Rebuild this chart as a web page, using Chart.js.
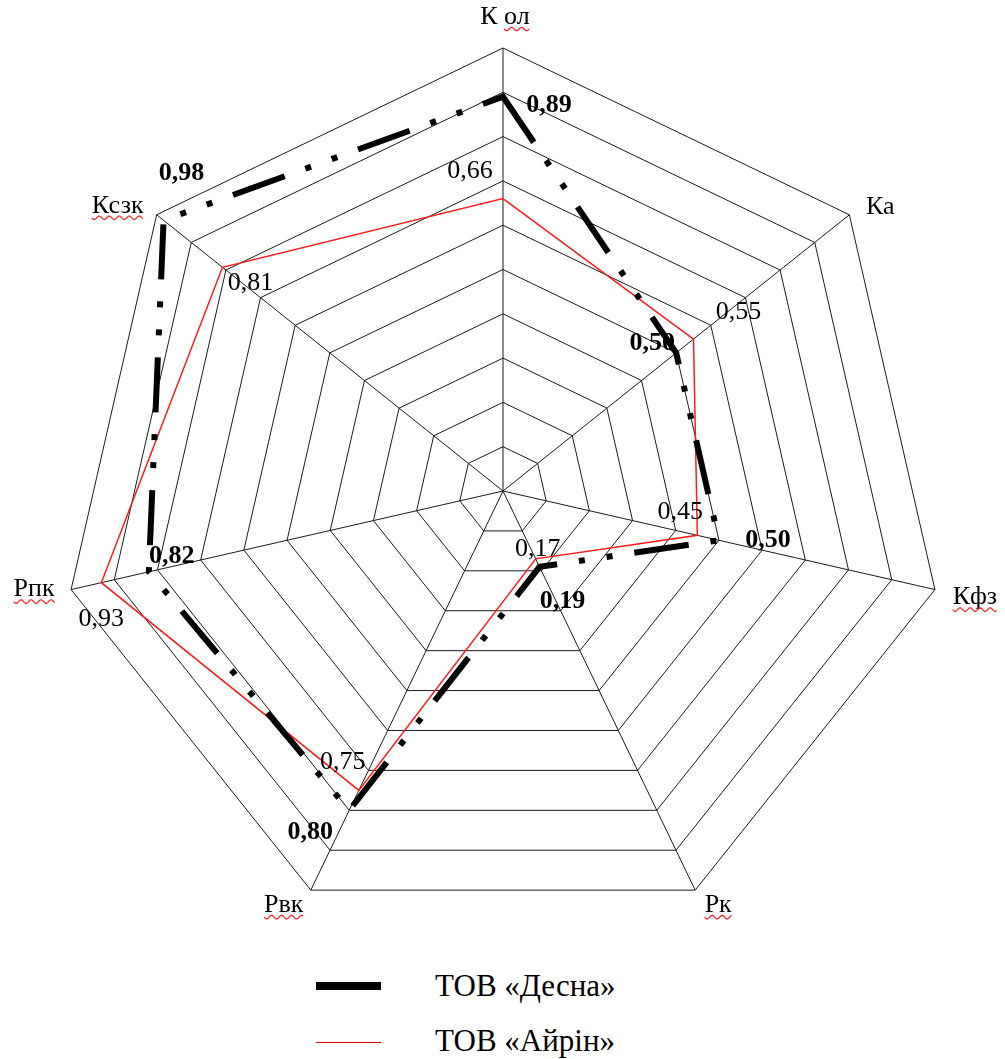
<!DOCTYPE html>
<html lang="uk">
<head>
<meta charset="UTF-8">
<title>Радар</title>
<script src="https://cdn.jsdelivr.net/npm/chart.js@4"></script>
<style>
    body { margin: 0; background: #fff; font-family: "Liberation Serif", "DejaVu Serif", serif; }
    #wrap { position: relative; width: 1005px; height: 1059px; }
    #radar { position: absolute; left: 0; top: 0; }
    .leg-line { position: absolute; left: 316px; width: 65px; }
    .leg-text { position: absolute; left: 435px; font-size: 31px; line-height: 36px; color: #000; white-space: nowrap; }
</style>
</head>
<body>
<div id="wrap">
    <canvas id="radar" width="1005" height="945"></canvas>
    <div class="leg-line" style="top:982px;height:8px;background:#000"></div>
    <div class="leg-text" style="top:968px">ТОВ «Десна»</div>
    <div class="leg-line" style="top:1042px;height:1px;background:#e00000"></div>
    <div class="leg-text" style="top:1023px">ТОВ «Айрін»</div>
</div>

<script>
    // осі
    var categories = ['К ол', 'Ка', 'Кфз', 'Рк', 'Рвк', 'Рпк', 'Ксзк'];
    // значення
    var desnaValues = [0.89, 0.50, 0.50, 0.19, 0.80, 0.82, 0.98];
    var airinValues = [0.66, 0.55, 0.45, 0.17, 0.75, 0.93, 0.81];
    var seriesNames = ['ТОВ «Десна»', 'ТОВ «Айрін»'];

    // зсуви підписів (px) від точок / вершин
    var desnaOffsets = [[46, 9], [-24, -10], [49, 0], [23, 34], [-39, 22], [23, -16], [18, -47]];
    var airinOffsets = [[-33, -27], [45, -27], [-17, -23], [2, -10], [-16, -28], [0, 36], [28, 16]];
    var axisOffsets = [[2, -31], [31, -8], [40, 8], [23, 15], [-27, 15], [-37, 0], [-39, -9]];
    var underlined = [true, false, true, true, true, true, true];

    var serif = '"Liberation Serif", "DejaVu Serif", serif';

    function fmt(v) {
        return v.toFixed(2).replace('.', ',');
    }

    var labelsPlugin = {
        id: 'labelsPlugin',
        afterDraw: function (chart) {
            var ctx = chart.ctx;
            var scale = chart.scales.r;
            ctx.save();
            ctx.textAlign = 'center';
            ctx.textBaseline = 'middle';
            ctx.fillStyle = '#000';

            // назви осей
            ctx.font = '26px ' + serif;
            for (var i = 0; i < categories.length; i++) {
                var p = scale.getPointPosition(i, scale.drawingArea);
                var x = p.x + axisOffsets[i][0];
                var y = p.y + axisOffsets[i][1];
                ctx.fillText(categories[i], x, y);
                if (underlined[i]) {
                    var txt = categories[i];
                    var w = ctx.measureText(txt).width;
                    var sp = txt.lastIndexOf(' ');
                    var x0 = x - w / 2 + (sp >= 0 ? ctx.measureText(txt.slice(0, sp + 1)).width : 0);
                    var x1 = x + w / 2;
                    ctx.beginPath();
                    ctx.strokeStyle = '#ff2020';
                    ctx.lineWidth = 1.2;
                    for (var xx = x0; xx <= x1; xx += 1) {
                        var yy = y + 12 + Math.sin((xx - x0) / 5 * Math.PI) * 1.8;
                        if (xx === x0) ctx.moveTo(xx, yy); else ctx.lineTo(xx, yy);
                    }
                    ctx.stroke();
                }
            }

            // значення
            var sets = [[desnaValues, desnaOffsets, 'bold 26px '], [airinValues, airinOffsets, '26px ']];
            sets.forEach(function (s, d) {
                var meta = chart.getDatasetMeta(d);
                ctx.font = s[2] + serif;
                for (var j = 0; j < s[0].length; j++) {
                    var pt = meta.data[j];
                    ctx.fillText(fmt(s[0][j]), pt.x + s[1][j][0], pt.y + s[1][j][1]);
                }
            });
            ctx.restore();
        }
    };

    var config = {
        type: 'radar',
        data: {
            labels: categories,
            datasets: [{
                label: seriesNames[0],
                data: desnaValues,
                borderColor: '#000',
                borderWidth: 6,
                borderDash: [55, 22, 6, 22, 6, 22],
                borderCapStyle: 'butt',
                fill: false,
                pointRadius: 0,
                tension: 0
            }, {
                label: seriesNames[1],
                data: airinValues,
                borderColor: '#ff1a1a',
                borderWidth: 1.5,
                fill: false,
                pointRadius: 0,
                tension: 0
            }]
        },
        options: {
            responsive: false,
            devicePixelRatio: 1,
            animation: false,
            layout: { padding: { left: 60, right: 59, top: 48, bottom: 11 } },
            plugins: {
                legend: { display: false },
                tooltip: { enabled: false }
            },
            scales: {
                r: {
                    min: 0,
                    max: 1,
                    ticks: { stepSize: 0.1, display: false },
                    grid: { color: '#1a1a1a', lineWidth: 1 },
                    angleLines: { color: '#1a1a1a', lineWidth: 1 },
                    pointLabels: { display: false }
                }
            }
        },
        plugins: [labelsPlugin]
    };

    var radarChart = new Chart(document.getElementById('radar'), config);
</script>
</body>
</html>
